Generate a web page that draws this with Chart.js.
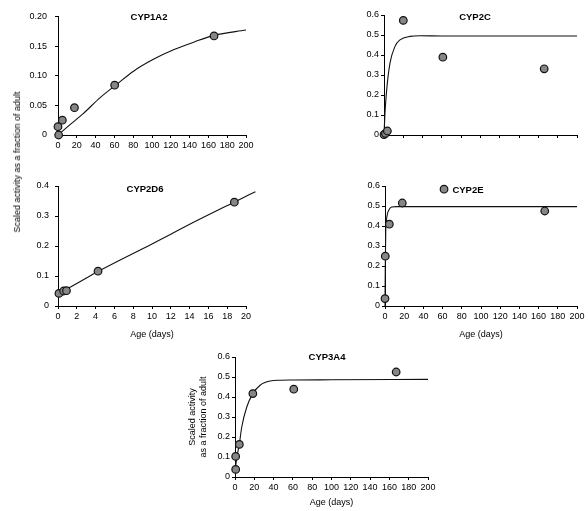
<!DOCTYPE html>
<html>
<head>
<meta charset="utf-8">
<script src="https://cdn.jsdelivr.net/npm/chart.js@4.4.1/dist/chart.umd.min.js"></script>
<style>
  body { margin: 0; background: #fff; }
  #page { position: relative; width: 588px; height: 511px; overflow: hidden; background: #fff; }
  canvas { position: absolute; }
  #ylabel {
    position: absolute; left: 17px; top: 162px;
    transform: translate(-50%, -50%) rotate(-90deg);
    font: 9px "Liberation Sans", Arial, sans-serif;
    white-space: nowrap; color: #000;
  }
</style>
</head>
<body>
<div id="page">
  <canvas id="c1a2"></canvas>
  <canvas id="c2c"></canvas>
  <canvas id="c2d6"></canvas>
  <canvas id="c2e"></canvas>
  <canvas id="c3a4"></canvas>
  <div id="ylabel">Scaled activity as a fraction of adult</div>
</div>
<script>
// observed values (age in days, activity as fraction of adult)
const cyp1a2Age = [0.7, 0, 4.6, 17.5, 60.3, 166];
const cyp1a2Act = [0.0, 0.014, 0.025, 0.046, 0.084, 0.167];
const cyp1a2FitAge = [0, 12.5, 26.8, 44.8, 62.9, 80.7, 102, 123.5, 145, 166, 200];
const cyp1a2FitAct = [0, 0.017, 0.036, 0.063, 0.086, 0.108, 0.128, 0.144, 0.157, 0.168, 0.177];

const cyp2cAge = [0, 1.5, 3.5, 20, 61, 166];
const cyp2cAct = [0.002, 0.008, 0.02, 0.573, 0.389, 0.331];
const cyp2cFitAge = [0, 1, 2.8, 6.2, 11.4, 16.6, 27, 37.4, 60, 200];
const cyp2cFitAct = [0, 0.109, 0.226, 0.359, 0.443, 0.476, 0.493, 0.496, 0.495, 0.495];

const cyp2d6Age = [0.1, 0.6, 0.9, 4.26, 18.76];
const cyp2d6Act = [0.042, 0.05, 0.051, 0.116, 0.346];
const cyp2d6FitAge = [0, 2, 4.3, 10, 15, 18.8, 21];
const cyp2d6FitAct = [0.04, 0.075, 0.116, 0.207, 0.288, 0.347, 0.381];

const cyp2eAge = [0, 0.3, 4.5, 18, 61.5, 166.4];
const cyp2eAct = [0.037, 0.249, 0.409, 0.515, 0.584, 0.475];
const cyp2eFitAge = [0, 0.3, 0.8, 1.5, 2.5, 4, 7, 12, 200];
const cyp2eFitAct = [0, 0.2, 0.38, 0.43, 0.46, 0.48, 0.495, 0.497, 0.497];

const cyp3a4Age = [0.7, 0.7, 4.5, 18.5, 60.9, 167];
const cyp3a4Act = [0.038, 0.103, 0.163, 0.417, 0.439, 0.525];
const cyp3a4FitAge = [0, 2, 4.5, 7, 12.2, 18.5, 26, 36.5, 47, 60, 100, 200];
const cyp3a4FitAct = [0.03, 0.1, 0.165, 0.25, 0.35, 0.417, 0.459, 0.48, 0.484, 0.485, 0.486, 0.488];

const FONT = '"Liberation Sans", Arial, sans-serif';

const panelTitle = {
  id: 'panelTitle',
  afterDraw(chart, args, opts) {
    const { ctx, chartArea } = chart;
    ctx.save();
    ctx.font = 'bold 9.5px ' + FONT;
    ctx.fillStyle = '#000';
    ctx.textAlign = 'center';
    ctx.textBaseline = 'middle';
    ctx.fillText(opts.text, chartArea.left + opts.dx, chartArea.top + opts.dy);
    ctx.restore();
  }
};

function pairs(xs, ys) {
  return xs.map((x, i) => ({ x: x, y: ys[i] }));
}

function makePanel(id, p) {
  const cv = document.getElementById(id);
  cv.width = p.box.w;
  cv.height = p.box.h;
  cv.style.left = p.box.l + 'px';
  cv.style.top = p.box.t + 'px';
  cv.style.width = p.box.w + 'px';
  cv.style.height = p.box.h + 'px';

  const pad = {
    left: p.area.l - p.box.l - p.yW,
    top: p.area.t - p.box.t,
    right: p.box.l + p.box.w - p.area.r,
    bottom: p.box.t + p.box.h - p.area.b - p.xH
  };

  new Chart(cv, {
    type: 'scatter',
    data: {
      datasets: [{
        data: pairs(p.age, p.act),
        pointRadius: 3.8,
        pointBackgroundColor: '#868686',
        pointBorderColor: '#111',
        pointBorderWidth: 1.2,
        showLine: false,
        clip: false
      }, {
        data: pairs(p.fitAge, p.fitAct),
        showLine: true,
        pointRadius: 0,
        borderColor: '#111',
        borderWidth: 1.1,
        cubicInterpolationMode: 'monotone',
        clip: false
      }]
    },
    options: {
      responsive: false,
      animation: false,
      layout: { padding: pad },
      plugins: {
        legend: { display: false },
        tooltip: { enabled: false },
        panelTitle: { text: p.title, dx: p.tdx, dy: p.tdy }
      },
      scales: {
        x: {
          type: 'linear',
          min: 0,
          max: p.xMax,
          ticks: {
            stepSize: p.xStep,
            display: p.xLabels,
            color: '#000',
            font: { family: FONT, size: 9 },
            maxRotation: 0,
            autoSkip: false,
            padding: 2
          },
          grid: { drawOnChartArea: false, drawTicks: true, tickLength: 3, color: '#000' },
          border: { color: '#000', width: 1 },
          title: {
            display: !!p.xTitle,
            text: p.xTitle,
            color: '#000',
            font: { family: FONT, size: 9 },
            padding: { top: 2, bottom: 0 }
          },
          afterFit: s => { s.height = p.xH; }
        },
        y: {
          min: 0,
          max: p.yMax,
          ticks: {
            stepSize: p.yStep,
            color: '#000',
            font: { family: FONT, size: 9 },
            padding: p.yPad,
            callback: v => (v === 0 ? '0' : v.toFixed(p.yDec))
          },
          grid: { drawOnChartArea: false, drawTicks: true, tickLength: 3, color: '#000' },
          border: { color: '#000', width: 1 },
          title: {
            display: !!p.yTitle,
            text: p.yTitle,
            color: '#000',
            font: { family: FONT, size: 9 },
            padding: { top: 4, bottom: 4 }
          },
          afterFit: s => { s.width = p.yW; }
        }
      }
    },
    plugins: [panelTitle]
  });
}

makePanel('c1a2', {
  box: { l: 20, t: 3, w: 240, h: 155 }, area: { l: 58, t: 15, r: 246, b: 135 },
  yW: 30, xH: 18, yPad: 8,
  age: cyp1a2Age, act: cyp1a2Act, fitAge: cyp1a2FitAge, fitAct: cyp1a2FitAct,
  xMax: 200, xStep: 20, xLabels: true, yMax: 0.2, yStep: 0.05, yDec: 2,
  title: 'CYP1A2', tdx: 91, tdy: 1
});

makePanel('c2c', {
  box: { l: 340, t: 3, w: 248, h: 155 }, area: { l: 384, t: 15, r: 577, b: 135 },
  yW: 30, xH: 18, yPad: 2,
  age: cyp2cAge, act: cyp2cAct, fitAge: cyp2cFitAge, fitAct: cyp2cFitAct,
  xMax: 200, xStep: 20, xLabels: false, yMax: 0.6, yStep: 0.1, yDec: 1,
  title: 'CYP2C', tdx: 91, tdy: 2
});

makePanel('c2d6', {
  box: { l: 20, t: 174, w: 240, h: 172 }, area: { l: 58, t: 186, r: 246, b: 306 },
  yW: 30, xH: 34, yPad: 6,
  age: cyp2d6Age, act: cyp2d6Act, fitAge: cyp2d6FitAge, fitAct: cyp2d6FitAct,
  xMax: 20, xStep: 2, xLabels: true, yMax: 0.4, yStep: 0.1, yDec: 1,
  xTitle: 'Age (days)',
  title: 'CYP2D6', tdx: 87, tdy: 3
});

makePanel('c2e', {
  box: { l: 340, t: 174, w: 248, h: 172 }, area: { l: 385, t: 186, r: 577, b: 306 },
  yW: 30, xH: 34, yPad: 2,
  age: cyp2eAge, act: cyp2eAct, fitAge: cyp2eFitAge, fitAct: cyp2eFitAct,
  xMax: 200, xStep: 20, xLabels: true, yMax: 0.6, yStep: 0.1, yDec: 1,
  xTitle: 'Age (days)',
  title: 'CYP2E', tdx: 83, tdy: 4
});

makePanel('c3a4', {
  box: { l: 170, t: 345, w: 275, h: 166 }, area: { l: 235, t: 357, r: 428, b: 477 },
  yW: 52, xH: 31, yPad: 2,
  age: cyp3a4Age, act: cyp3a4Act, fitAge: cyp3a4FitAge, fitAct: cyp3a4FitAct,
  xMax: 200, xStep: 20, xLabels: true, yMax: 0.6, yStep: 0.1, yDec: 1,
  xTitle: 'Age (days)', yTitle: ['Scaled activity', 'as a fraction of adult'],
  title: 'CYP3A4', tdx: 92, tdy: 0
});
</script>
</body>
</html>
